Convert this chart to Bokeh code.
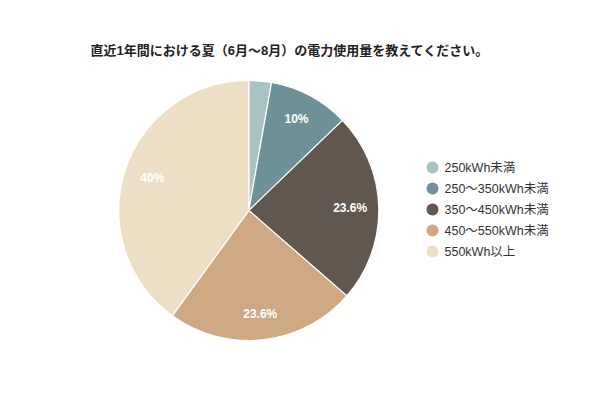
import math
from bokeh.plotting import figure
from bokeh.models import Range1d, ColumnDataSource
from bokeh.core.properties import value
from bokeh.embed import file_html
from bokeh.resources import INLINE

title = "直近1年間における夏（6月〜8月）の電力使用量を教えてください。"
categories = ["250kWh未満", "250〜350kWh未満", "350〜450kWh未満", "450〜550kWh未満", "550kWh以上"]
values = [2.8, 10, 23.6, 23.6, 40]
labels = ["", "10%", "23.6%", "23.6%", "40%"]
colors = ["#a9c2c2", "#6e9198", "#62574e", "#cfa884", "#ecdfc6"]

FONT = "Liberation Sans, Arial, Noto Sans CJK JP, sans-serif"

W, H = 584, 384
p = figure(width=W, height=H, output_backend="svg", toolbar_location=None,
           x_range=Range1d(0, W), y_range=Range1d(400 - H, 400),
           min_border=0)
p.axis.visible = False
p.grid.visible = False
p.outline_line_color = None
p.background_fill_color = "white"
p.border_fill_color = "white"

cx, cy, R = 248.3, 400 - 210, 130
total = sum(values)
starts, ends, lx, ly = [], [], [], []
acc = 0.0
for v in values:
    a0 = acc / total * 2 * math.pi
    acc += v
    a1 = acc / total * 2 * math.pi
    starts.append(math.pi / 2 - a1)
    ends.append(math.pi / 2 - a0)
    mid = (a0 + a1) / 2
    lx.append(cx + 0.78 * R * math.sin(mid))
    ly.append(cy + 0.8 * R * math.cos(mid))

src = ColumnDataSource(dict(start=starts, end=ends, color=colors, lx=lx, ly=ly,
                            label=labels, cat=categories))
p.wedge(x=cx, y=cy, radius=R, start_angle="start", end_angle="end",
        fill_color="color", line_color="white", line_width=1.2, source=src)
p.text(x="lx", y="ly", text="label", source=src, text_color="white",
       text_font=value(FONT), text_font_style="bold", text_font_size="12px",
       text_align="center", text_baseline="middle")

# title
p.text(x=[90], y=[400 - 50], text=[title], text_font=value(FONT),
       text_font_style="bold", text_font_size="13px", text_color="#222222",
       text_baseline="middle")

# legend
ys = [400 - (167 + 21 * i) for i in range(len(categories))]
lsrc = ColumnDataSource(dict(x=[432] * len(categories), tx=[444] * len(categories),
                             y=ys, color=colors, cat=categories))
p.scatter(x="x", y="y", size=12, marker="circle", fill_color="color",
          line_color=None, source=lsrc)
p.text(x="tx", y="y", text="cat", source=lsrc, text_color="#333333",
       text_font=value(FONT), text_font_size="12.5px",
       text_baseline="middle")

open("out.html", "w").write(file_html(p, INLINE))
